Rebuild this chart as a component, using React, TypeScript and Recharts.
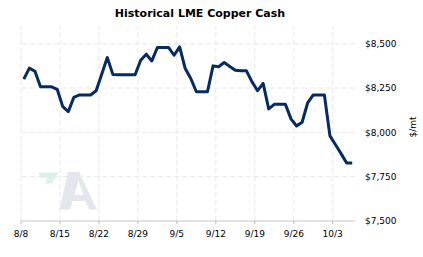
import React from 'react';
import { LineChart, Line, XAxis, YAxis, ReferenceLine } from 'recharts';

// Daily LME copper cash, starting 8/8 (day 0) through 10/6
const prices = [
  8300, 8362, 8345, 8257, 8257, 8257, 8243, 8145, 8117, 8198,
  8211, 8211, 8211, 8235, 8328, 8422, 8327, 8325, 8325, 8325,
  8325, 8407, 8441, 8403, 8479, 8479, 8479, 8435, 8482, 8360,
  8304, 8229, 8229, 8229, 8375, 8370, 8394, 8372, 8351, 8347,
  8347, 8285, 8235, 8276, 8132, 8158, 8158, 8158, 8076, 8036,
  8057, 8167, 8211, 8211, 8211, 7980, 7930, 7880, 7827, 7827,
];
const tickDays = [0, 7, 14, 21, 28, 35, 42, 49, 56];
const tickLabels = ['8/8', '8/15', '8/22', '8/29', '9/5', '9/12', '9/19', '9/26', '10/3'];
const yTicks = [7500, 7750, 8000, 8250, 8500];
const gridTicks = [7750, 8000, 8250, 8500];
const xDomain: [number, number] = [0, 60];
const yDomain: [number, number] = [7500, 8600];

// each quote is stamped at mid-day
const data = prices.map((p, i) => ({ day: i + 0.5, price: p }));

const font = '"DejaVu Sans", Verdana, sans-serif';
const gridColor = '#e8e8e8';

export default function App() {
  return (
    <div style={{ position: 'absolute', left: 0, top: 0, width: 423, height: 257, background: '#fff', fontFamily: font }}>
      <svg width={423} height={257} style={{ position: 'absolute', left: 0, top: 0 }}>
        <polygon points="38.5,172.5 58.5,172.5 52,183.5 45,183.5 47.5,177.5 40.5,177.5" fill="#d6f3e5" />
        <path
          d="M59.5,209.5 L68,172 L79,172 L97,209.5 L89,209.5 L85.5,201 L72.5,201 L70,209.5 Z M74.5,195 L83.5,195 L78.5,181 Z"
          fill="#e3e6ec"
          fillRule="evenodd"
        />
      </svg>
      <div style={{ position: 'absolute', left: 0, top: 0 }}>
        <LineChart width={423} height={257} data={data} margin={{ top: 26, right: 8, bottom: 6, left: 21 }}>
          {gridTicks.map((v) => (
            <ReferenceLine key={'h' + v} y={v} stroke={gridColor} strokeDasharray="5 3" />
          ))}
          {tickDays.map((d) => (
            <ReferenceLine key={'v' + d} x={d} stroke={gridColor} strokeDasharray="5 3" />
          ))}
          <XAxis
            dataKey="day"
            type="number"
            domain={xDomain}
            ticks={tickDays}
            tickFormatter={(v: number) => tickLabels[tickDays.indexOf(v)] ?? ''}
            interval={0}
            height={30}
            tickSize={3}
            tickMargin={7}
            axisLine={{ stroke: '#d8d8d8', strokeWidth: 1.5 }}
            tickLine={{ stroke: '#bbbbbb' }}
            tick={{ fill: '#000', fontSize: 9, fontFamily: font }}
          />
          <YAxis
            orientation="right"
            type="number"
            domain={yDomain}
            ticks={yTicks}
            tickFormatter={(v: number) => '$' + v.toLocaleString('en-US')}
            width={60}
            axisLine={false}
            tickLine={false}
            tickSize={6}
            tickMargin={4}
            tick={{ fill: '#000', fontSize: 9, fontFamily: font, textAnchor: 'start' }}
          />
          <Line
            dataKey="price"
            type="linear"
            stroke="#062a63"
            strokeWidth={3}
            dot={false}
            isAnimationActive={false}
            strokeLinejoin="round"
          />
        </LineChart>
      </div>
      <svg width={423} height={257} style={{ position: 'absolute', left: 0, top: 0, pointerEvents: 'none' }}>
        <text x={200} y={17} textAnchor="middle" fontFamily={font} fontWeight="bold" fontSize={11} fill="#000">
          Historical LME Copper Cash
        </text>
        <text
          x={413}
          y={127}
          transform="rotate(-90 413 127)"
          textAnchor="middle"
          dominantBaseline="central"
          fontFamily={font}
          fontSize={9}
          fill="#000"
        >
          $/mt
        </text>
      </svg>
    </div>
  );
}
